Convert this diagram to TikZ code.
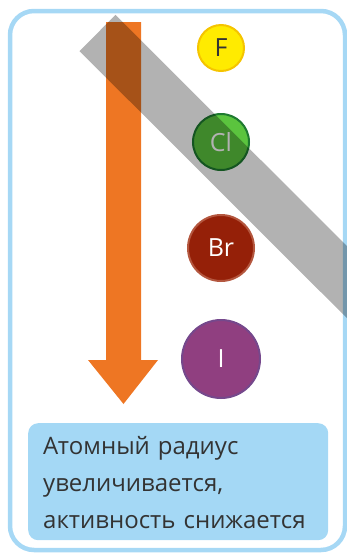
\documentclass[tikz,border=0pt]{standalone}
\usepackage{fontspec}
\setmainfont{Open Sans}
\usetikzlibrary{positioning}
\definecolor{framebl}{HTML}{A6D8F5}
\definecolor{notebl}{HTML}{A4D8F5}
\definecolor{arrorange}{HTML}{EE7623}
\definecolor{fyellow}{HTML}{FFEB00}
\definecolor{fgold}{HTML}{F5C400}
\definecolor{clgreen}{HTML}{5BC43E}
\definecolor{cldark}{HTML}{1E7A30}
\definecolor{brred}{HTML}{952008}
\definecolor{brrim}{HTML}{B4573F}
\definecolor{ipurple}{HTML}{903F80}
\definecolor{irim}{HTML}{75488C}
\definecolor{txtdark}{HTML}{333333}

\begin{document}
\begin{tikzpicture}[x=1pt, y=-1pt,
    atom/.style={circle, line width=2pt, inner sep=0pt, text=white,
                 font=\fontsize{25}{25}\selectfont},
    notebox/.style={fill=notebl, rounded corners=10pt, text width=270pt, align=left,
                    inner xsep=15pt, minimum height=117pt, text=txtdark,
                    font=\fontsize{24}{36}\selectfont}]
    \useasboundingbox (0,0) rectangle (347,555);
    \draw[framebl, line width=4.5pt, rounded corners=24pt] (10,11) rectangle (345,550);
    % arrow down
    \fill[arrorange] (106,22) -- (141,22) -- (141,360) -- (158,360) -- (123.5,404)
        -- (88,360) -- (106,360) -- cycle;
    % halogens
    \node[atom, fill=fyellow, draw=fgold, minimum size=46pt, text=txtdark] (F) at (221,48) {F};
    \node[atom, fill=clgreen, draw=cldark, minimum size=56pt] (Cl) at (221,142) {Cl};
    \node[atom, fill=brred, draw=brrim, minimum size=66pt] (Br) at (221,248) {Br};
    \node[atom, fill=ipurple, draw=irim, minimum size=78pt] (I) at (221,359) {I};
    \node[notebox, anchor=north west] (note) at (28,423) {};
    \node[text=txtdark, text width=280pt, align=left, anchor=north west, inner sep=0pt,
          font=\fontsize{24}{37}\selectfont] (notetxt) at (43,436)
        {Атомный радиус\\увеличивается,\\активность снижается};
    % grey band on top
    \begin{scope}
      \clip (0,0) rectangle (347,555);
      \draw[black, opacity=0.3, line width=51pt] (97.5,33) -- (480,415);
    \end{scope}
\end{tikzpicture}
\end{document}
